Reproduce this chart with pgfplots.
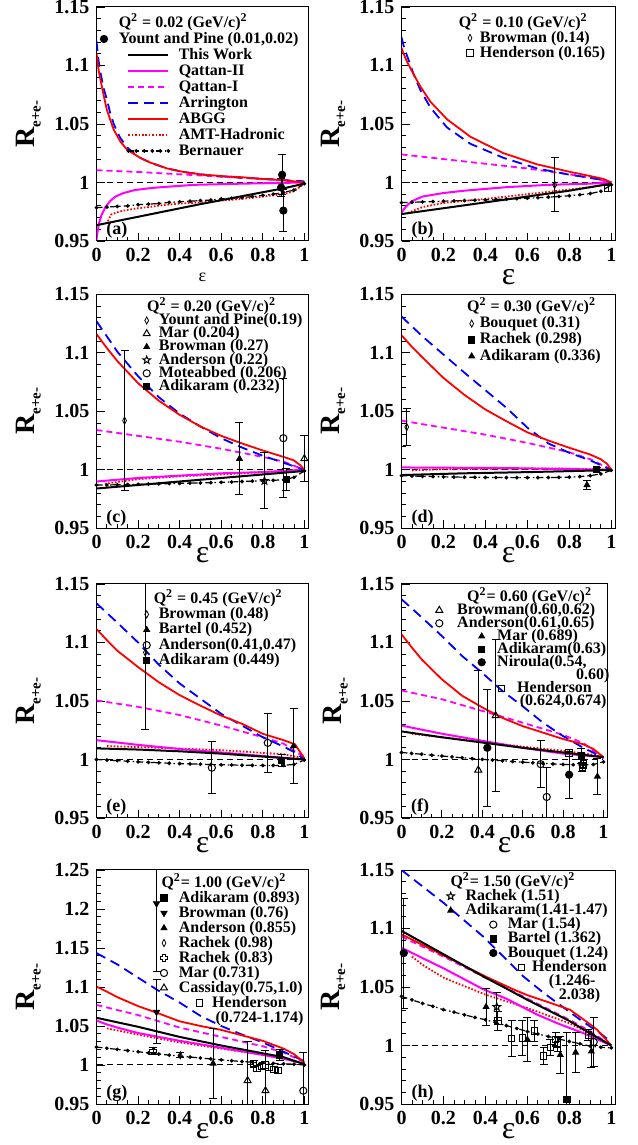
\documentclass[border=0pt]{standalone}
\usepackage{fontspec}
\setmainfont{Liberation Serif}
\usepackage{pgfplots}
\pgfplotsset{compat=1.18}
\usetikzlibrary{plotmarks}
\definecolor{rmag}{RGB}{255,0,255}
\definecolor{rred}{RGB}{255,0,0}
\definecolor{rblue}{RGB}{0,0,255}

\pgfdeclareplotmark{ostar}{%
  \pgfpathmoveto{\pgfpointpolar{90}{\pgfplotmarksize}}%
  \pgfpathlineto{\pgfpointpolar{126}{0.42\pgfplotmarksize}}%
  \pgfpathlineto{\pgfpointpolar{162}{\pgfplotmarksize}}%
  \pgfpathlineto{\pgfpointpolar{198}{0.42\pgfplotmarksize}}%
  \pgfpathlineto{\pgfpointpolar{234}{\pgfplotmarksize}}%
  \pgfpathlineto{\pgfpointpolar{270}{0.42\pgfplotmarksize}}%
  \pgfpathlineto{\pgfpointpolar{306}{\pgfplotmarksize}}%
  \pgfpathlineto{\pgfpointpolar{342}{0.42\pgfplotmarksize}}%
  \pgfpathlineto{\pgfpointpolar{18}{\pgfplotmarksize}}%
  \pgfpathlineto{\pgfpointpolar{54}{0.42\pgfplotmarksize}}%
  \pgfpathclose\pgfusepathqstroke}
\pgfdeclareplotmark{ocross}{%
  \pgfpathmoveto{\pgfqpoint{-0.33\pgfplotmarksize}{\pgfplotmarksize}}%
  \pgfpathlineto{\pgfqpoint{0.33\pgfplotmarksize}{\pgfplotmarksize}}%
  \pgfpathlineto{\pgfqpoint{0.33\pgfplotmarksize}{0.33\pgfplotmarksize}}%
  \pgfpathlineto{\pgfqpoint{\pgfplotmarksize}{0.33\pgfplotmarksize}}%
  \pgfpathlineto{\pgfqpoint{\pgfplotmarksize}{-0.33\pgfplotmarksize}}%
  \pgfpathlineto{\pgfqpoint{0.33\pgfplotmarksize}{-0.33\pgfplotmarksize}}%
  \pgfpathlineto{\pgfqpoint{0.33\pgfplotmarksize}{-\pgfplotmarksize}}%
  \pgfpathlineto{\pgfqpoint{-0.33\pgfplotmarksize}{-\pgfplotmarksize}}%
  \pgfpathlineto{\pgfqpoint{-0.33\pgfplotmarksize}{-0.33\pgfplotmarksize}}%
  \pgfpathlineto{\pgfqpoint{-\pgfplotmarksize}{-0.33\pgfplotmarksize}}%
  \pgfpathlineto{\pgfqpoint{-\pgfplotmarksize}{0.33\pgfplotmarksize}}%
  \pgfpathlineto{\pgfqpoint{-0.33\pgfplotmarksize}{0.33\pgfplotmarksize}}%
  \pgfpathclose\pgfusepathqstroke}

\tikzset{plab/.style={font=\bfseries\fontsize{9}{9}\selectfont, anchor=south west, inner sep=0pt}}

\pgfplotsset{
  panel/.style={
    scale only axis, width=106pt, height=117pt, anchor=south west,
    xmin=0, xmax=1.02, ymin=0.95, ymax=1.15,
    xtick={0,0.2,0.4,0.6,0.8,1}, xticklabels={0,0.2,0.4,0.6,0.8,1},
    ytick={0.95,1,1.05,1.1,1.15}, yticklabels={0.95,1,1.05,1.1,1.15},
    minor x tick num=3, minor y tick num=4,
    tick align=inside, tick pos=left,
    major tick length=4pt, minor tick length=2pt,
    tick style={black, line width=0.4pt},
    axis line style={line width=0.5pt},
    ticklabel style={font=\bfseries\fontsize{10}{10}\selectfont},
    ylabel={\bfseries\fontsize{14}{14}\selectfont R\raisebox{-0.45ex}{\fontsize{7.5}{7.5}\selectfont e+e-}},
    ylabel style={at={(axis description cs:-0.32,0.5)}, anchor=center},
    xlabel={ε},
    xlabel style={at={(axis description cs:0.5,0)}, anchor=center, yshift=-13.5pt, font=\fontsize{16}{16}\selectfont},
    legend cell align=left,
    legend style={draw=none, fill=none, inner sep=0pt, outer sep=0pt,
      at={(axis description cs:0,1)}, anchor=north west,
      font=\bfseries\fontsize{8}{8}\selectfont, column sep=0pt,
      nodes={inner sep=0.25pt, text height=5.8pt, text depth=1.7pt}},
  },
  lgm/.style={legend image code/.code={\draw[##1,overlay,xshift=#1] plot coordinates {(0pt,0pt)};}},
  lgl/.style={legend image code/.code={\draw[##1,overlay,xshift=#1] plot coordinates {(0pt,0pt) (4pt,0pt) (8pt,0pt) (12pt,0pt) (16pt,0pt) (20pt,0pt)};}},
  cTW/.style={black, line width=1pt, no marks},
  cQ2/.style={rmag, line width=1pt, no marks},
  cQ1/.style={rmag, line width=0.9pt, dash pattern=on 3pt off 2pt, no marks},
  cAR/.style={rblue, line width=0.9pt, dash pattern=on 5pt off 3pt, no marks},
  cAB/.style={rred, line width=0.9pt, no marks},
  cAM/.style={rred, line width=0.9pt, dash pattern=on 0.8pt off 0.9pt, no marks},
  cBE/.style={black, line width=0.6pt, dash pattern=on 3pt off 1.5pt on 0.8pt off 1.5pt, mark=*, mark size=0.6pt, mark options={solid}},
  cone/.style={black, line width=0.5pt, dash pattern=on 3pt off 2pt, no marks, forget plot},
  dp/.style={only marks, black, forget plot, mark size=1.8pt, mark options={solid, line width=0.5pt},
    error bars/y dir=both, error bars/y explicit,
    error bars/error bar style={line width=0.5pt, black, solid},
    error bars/error mark options={rotate=90, mark size=2pt, line width=0.5pt, black, solid}},
  mk/.style={only marks, black, mark size=1.8pt, mark options={solid, line width=0.5pt}},
}

\newcommand{\QQ}[1]{Q\textsuperscript{2} = #1 (GeV/c)\textsuperscript{2}}
\newcommand{\QQn}[1]{Q\textsuperscript{2}= #1 (GeV/c)\textsuperscript{2}}

\begin{document}
\begin{tikzpicture}
\useasboundingbox (0,0) rectangle (318.5pt,572.5pt);

% ================= (a)
\begin{axis}[panel, at={(48.25pt,452pt)},
  xlabel style={yshift=-4.5pt, font=\fontsize{9}{9}\selectfont},
  legend style={xshift=10.9pt, yshift=-4pt, row sep=0pt}]
\addplot[cone] coordinates {(0,1) (1,1)};
\addplot[cBE, forget plot] coordinates {(0,0.9785) (0.05,0.979) (0.1,0.9795) (0.15,0.980) (0.2,0.981) (0.25,0.9815) (0.3,0.982) (0.35,0.983) (0.4,0.9835) (0.45,0.984) (0.5,0.9845) (0.55,0.985) (0.6,0.986) (0.65,0.9865) (0.7,0.987) (0.75,0.988) (0.8,0.989) (0.85,0.990) (0.9,0.9915) (0.95,0.9935) (1,0.999)};
\addplot[cAM, forget plot] coordinates {(0.055,0.967) (0.07,0.9725) (0.09,0.974) (0.123,0.9757) (0.187,0.9777) (0.25,0.979) (0.315,0.9805) (0.4,0.982) (0.507,0.983) (0.6,0.9845) (0.7,0.986) (0.8,0.988) (0.9,0.990) (0.95,0.9925) (1,0.999)};
\addplot[cQ1, forget plot] coordinates {(0,1.0105) (0.2,1.009) (0.4,1.007) (0.6,1.005) (0.8,1.003) (1,1.0005)};
\addplot[cQ2, forget plot] coordinates {(0,0.951) (0.005,0.958) (0.012,0.965) (0.024,0.972) (0.043,0.979) (0.065,0.984) (0.091,0.988) (0.13,0.991) (0.184,0.9935) (0.25,0.995) (0.312,0.996) (0.47,0.998) (0.7,0.999) (1,1.0)};
\addplot[cAR, forget plot] coordinates {(0,1.121) (0.005,1.112) (0.01,1.104) (0.02,1.093) (0.035,1.080) (0.05,1.071) (0.065,1.060) (0.083,1.050) (0.1,1.043) (0.115,1.038) (0.147,1.030) (0.18,1.025) (0.211,1.021) (0.259,1.017) (0.339,1.012) (0.419,1.009) (0.5,1.007) (0.579,1.0055) (0.7,1.004) (0.819,1.003) (0.9,1.002) (1,1.001)};
\addplot[cAB, forget plot] coordinates {(0,1.111) (0.005,1.103) (0.01,1.096) (0.02,1.087) (0.035,1.074) (0.05,1.062) (0.083,1.045) (0.115,1.035) (0.147,1.028) (0.211,1.021) (0.259,1.017) (0.339,1.012) (0.419,1.009) (0.5,1.007) (0.6,1.0055) (0.7,1.0045) (0.8,1.003) (0.9,1.002) (1,1.0)};
\addplot[cTW, forget plot] coordinates {(0,0.9635) (0.25,0.9725) (0.5,0.9815) (0.75,0.990) (0.9,0.995) (1,0.999)};
\addplot[dp, mark=*] coordinates {(0.893,1.0066) +- (0,0.017) (0.888,0.9957) +- (0,0.008) (0.899,0.976) +- (0,0.018)};
\addlegendimage{empty legend}\addlegendentry{\QQ{0.02}}
\addlegendimage{mk, mark=*, lgm=-7.15pt}\addlegendentry{Yount and Pine (0.01,0.02)}
\addlegendimage{cTW, lgl=5pt}\addlegendentry{\hspace{30pt}This Work}
\addlegendimage{cQ2, lgl=5pt}\addlegendentry{\hspace{30pt}Qattan-II}
\addlegendimage{cQ1, lgl=5pt}\addlegendentry{\hspace{30pt}Qattan-I}
\addlegendimage{cAR, lgl=5pt}\addlegendentry{\hspace{30pt}Arrington}
\addlegendimage{cAB, lgl=5pt}\addlegendentry{\hspace{30pt}ABGG}
\addlegendimage{cAM, lgl=5pt}\addlegendentry{\hspace{30pt}AMT-Hadronic}
\addlegendimage{cBE, lgl=5pt}\addlegendentry{\hspace{30pt}Bernauer}
\node[plab] at (axis description cs:0.045,0.008) {(a)};
\end{axis}

% ================= (b)
\begin{axis}[panel, at={(200.75pt,452pt)}, width=107pt,
  xlabel style={yshift=-4.5pt},
  legend style={xshift=28.4pt, yshift=-4pt, row sep=-0.5pt}]
\addplot[cone] coordinates {(0,1) (1,1)};
\addplot[cBE, forget plot] coordinates {(0,0.9828) (0.05,0.9831) (0.1,0.9834) (0.15,0.9837) (0.2,0.984) (0.25,0.9843) (0.3,0.9846) (0.35,0.9849) (0.4,0.9852) (0.45,0.9855) (0.5,0.9858) (0.55,0.9862) (0.6,0.9866) (0.65,0.987) (0.7,0.9875) (0.75,0.988) (0.8,0.9887) (0.85,0.9895) (0.9,0.9905) (0.95,0.9925) (1,0.998)};
\addplot[cAM, forget plot] coordinates {(0.03,0.974) (0.1,0.979) (0.2,0.9825) (0.4,0.986) (0.6,0.990) (0.8,0.994) (0.9,0.996) (1,0.999)};
\addplot[cQ1, forget plot] coordinates {(0,1.024) (0.2,1.020) (0.4,1.016) (0.6,1.012) (0.8,1.007) (0.9,1.004) (1,1.0)};
\addplot[cQ2, forget plot] coordinates {(0,0.974) (0.01,0.977) (0.03,0.981) (0.05,0.984) (0.1,0.988) (0.2,0.991) (0.3,0.993) (0.5,0.996) (0.7,0.998) (0.9,0.999) (1,1.0)};
\addplot[cAR, forget plot] coordinates {(0,1.124) (0.01,1.117) (0.027,1.108) (0.059,1.092) (0.09,1.079) (0.138,1.064) (0.217,1.047) (0.329,1.033) (0.487,1.021) (0.646,1.012) (0.805,1.0065) (0.9,1.004) (0.963,1.002) (1,1.0)};
\addplot[cAB, forget plot] coordinates {(0,1.115) (0.01,1.110) (0.027,1.103) (0.059,1.092) (0.09,1.082) (0.138,1.069) (0.217,1.054) (0.329,1.039) (0.487,1.025) (0.646,1.0155) (0.805,1.009) (0.9,1.0055) (0.963,1.003) (1,1.0)};
\addplot[cTW, forget plot] coordinates {(0,0.973) (0.2,0.978) (0.4,0.983) (0.6,0.988) (0.8,0.993) (0.9,0.996) (1,0.999)};
\addplot[dp, mark=diamond, mark options={xscale=0.7}] coordinates {(0.73,0.998) +- (0,0.023)};
\addplot[dp, mark=square, mark size=1.6pt] coordinates {(0.985,0.995) +- (0,0.003)};
\addlegendimage{empty legend}\addlegendentry{\QQ{0.10}}
\addlegendimage{mk, mark=diamond, mark options={xscale=0.7}, lgm=5.85pt}\addlegendentry{\hspace{10.5pt}Browman (0.14)}
\addlegendimage{mk, mark=square, mark size=1.6pt, lgm=5.85pt}\addlegendentry{\hspace{10.5pt}Henderson (0.165)}
\node[plab] at (axis description cs:0.045,0.008) {(b)};
\end{axis}

% ================= (c)
\begin{axis}[panel, at={(48.25pt,308.35pt)},
  legend style={xshift=25.1pt, yshift=-2.5pt, row sep=-1.4pt}]
\addplot[cone] coordinates {(0,1) (1,1)};
\addplot[cBE, forget plot] coordinates {(0,0.987) (0.05,0.987) (0.1,0.9872) (0.15,0.9874) (0.2,0.9876) (0.25,0.9878) (0.3,0.988) (0.35,0.9882) (0.4,0.9884) (0.45,0.9886) (0.5,0.9888) (0.55,0.989) (0.6,0.9893) (0.65,0.9896) (0.7,0.99) (0.75,0.9903) (0.8,0.9906) (0.85,0.991) (0.9,0.9915) (0.95,0.9935) (1,0.999)};
\addplot[cAM, forget plot] coordinates {(0.04,0.988) (0.2,0.992) (0.4,0.9945) (0.6,0.996) (0.8,0.998) (1,1.0)};
\addplot[cQ1, forget plot] coordinates {(0,1.034) (0.2,1.029) (0.4,1.024) (0.6,1.018) (0.8,1.011) (0.9,1.007) (1,1.0)};
\addplot[cQ2, forget plot] coordinates {(0,0.990) (0.2,0.993) (0.4,0.995) (0.6,0.997) (0.8,0.998) (1,1.0)};
\addplot[cAR, forget plot] coordinates {(0,1.127) (0.05,1.114) (0.1,1.101) (0.2,1.080) (0.3,1.062) (0.4,1.048) (0.5,1.037) (0.6,1.027) (0.7,1.019) (0.8,1.012) (0.9,1.006) (0.95,1.003) (1,1.0)};
\addplot[cAB, forget plot] coordinates {(0,1.116) (0.05,1.104) (0.1,1.093) (0.2,1.074) (0.3,1.059) (0.4,1.047) (0.5,1.037) (0.6,1.029) (0.7,1.0225) (0.8,1.0165) (0.9,1.011) (0.95,1.008) (0.98,1.004) (1,1.0)};
\addplot[cTW, forget plot] coordinates {(0,0.984) (0.2,0.987) (0.4,0.990) (0.6,0.993) (0.8,0.996) (1,0.999)};
\addplot[dp, mark=diamond, mark options={xscale=0.7}] coordinates {(0.135,1.042) +- (0,0.06)};
\addplot[dp, mark=triangle, mark size=2pt] coordinates {(1.0,1.0095) +- (0,0.0195)};
\addplot[dp, mark=triangle*, mark size=1.6pt] coordinates {(0.688,1.0095) +- (0,0.031)};
\addplot[dp, mark=ostar, mark size=2pt] coordinates {(0.808,0.9905) +- (0,0.024)};
\addplot[dp, mark=o] coordinates {(0.899,1.027) +- (0,0.051)};
\addplot[dp, mark=square*, mark size=1.6pt] coordinates {(0.914,0.9915) +- (0,0.0095)};
\addlegendimage{empty legend}\addlegendentry{\QQ{0.20}}
\addlegendimage{mk, mark=diamond, mark options={xscale=0.7}, lgm=0pt}\addlegendentry{\hspace{5.8pt}Yount and Pine(0.19)}
\addlegendimage{mk, mark=triangle, mark size=2pt, lgm=0pt}\addlegendentry{\hspace{5.8pt}Mar (0.204)}
\addlegendimage{mk, mark=triangle*, mark size=1.6pt, lgm=0pt}\addlegendentry{\hspace{5.8pt}Browman (0.27)}
\addlegendimage{mk, mark=ostar, mark size=2pt, lgm=0pt}\addlegendentry{\hspace{5.8pt}Anderson (0.22)}
\addlegendimage{mk, mark=o, lgm=0pt}\addlegendentry{\hspace{5.8pt}Moteabbed (0.206)}
\addlegendimage{mk, mark=square*, mark size=1.6pt, lgm=0pt}\addlegendentry{\hspace{5.8pt}Adikaram (0.232)}
\node[plab] at (axis description cs:0.045,0.008) {(c)};
\end{axis}

% ================= (d)
\begin{axis}[panel, at={(200.75pt,308.35pt)}, width=107pt,
  legend style={xshift=32.6pt, yshift=-2.5pt, row sep=0.15pt}]
\addplot[cone] coordinates {(0,1) (1,1)};
\addplot[cBE, forget plot] coordinates {(0,0.995) (0.05,0.9947) (0.1,0.9944) (0.15,0.9942) (0.2,0.994) (0.25,0.9938) (0.3,0.9937) (0.35,0.9936) (0.4,0.9935) (0.45,0.9934) (0.5,0.9933) (0.55,0.9933) (0.6,0.9933) (0.65,0.9933) (0.7,0.9934) (0.75,0.9935) (0.8,0.9937) (0.85,0.9942) (0.9,0.995) (0.95,0.9965) (1,0.9995)};
\addplot[cAM, forget plot] coordinates {(0.05,0.9995) (0.2,1.0005) (0.5,1.001) (0.8,1.001) (1,1.0)};
\addplot[cQ1, forget plot] coordinates {(0,1.042) (0.2,1.036) (0.4,1.030) (0.6,1.023) (0.8,1.015) (0.9,1.009) (1,1.0)};
\addplot[cQ2, forget plot] coordinates {(0,1.002) (0.5,1.0015) (1,1.0)};
\addplot[cAR, forget plot] coordinates {(0,1.131) (0.1,1.114) (0.2,1.0985) (0.3,1.083) (0.4,1.068) (0.5,1.053) (0.6,1.036) (0.7,1.0225) (0.8,1.0145) (0.9,1.008) (0.95,1.004) (1,1.0)};
\addplot[cAB, forget plot] coordinates {(0,1.115) (0.05,1.105) (0.1,1.096) (0.2,1.0785) (0.3,1.064) (0.4,1.0515) (0.5,1.0415) (0.6,1.032) (0.7,1.025) (0.8,1.0188) (0.9,1.013) (0.95,1.009) (0.98,1.005) (1,1.0)};
\addplot[cTW, forget plot] coordinates {(0,0.9955) (0.3,0.997) (0.6,0.998) (0.9,0.9993) (1,1.0)};
\addplot[dp, mark=diamond, mark options={xscale=0.7}] coordinates {(0.025,1.0365) +- (0,0.016)};
\addplot[dp, mark=square*, mark size=1.6pt] coordinates {(0.93,1.0) +- (0,0.002)};
\addplot[dp, mark=triangle*, mark size=1.6pt] coordinates {(0.884,0.987) +- (0,0.004)};
\addlegendimage{empty legend}\addlegendentry{\QQ{0.30}}
\addlegendimage{mk, mark=diamond, mark options={xscale=0.7}, lgm=2.5pt}\addlegendentry{\hspace{6.3pt}Bouquet (0.31)}
\addlegendimage{mk, mark=square*, mark size=1.6pt, lgm=2.5pt}\addlegendentry{\hspace{6.3pt}Rachek (0.298)}
\addlegendimage{mk, mark=triangle*, mark size=1.6pt, lgm=2.5pt}\addlegendentry{\hspace{6.3pt}Adikaram (0.336)}
\node[plab] at (axis description cs:0.045,0.008) {(d)};
\end{axis}

% ================= (e)
\begin{axis}[panel, at={(48.25pt,163.5pt)},
  legend style={xshift=28.4pt, yshift=-3.5pt, row sep=-0.3pt}]
\addplot[cone] coordinates {(0,1) (1,1)};
\addplot[cBE, forget plot] coordinates {(0,1.0) (0.05,0.9995) (0.1,0.999) (0.15,0.9985) (0.2,0.998) (0.25,0.9976) (0.3,0.9972) (0.35,0.9968) (0.4,0.9965) (0.45,0.9962) (0.5,0.996) (0.55,0.9957) (0.6,0.9955) (0.65,0.9953) (0.7,0.9951) (0.75,0.995) (0.8,0.9949) (0.85,0.9949) (0.9,0.995) (0.95,0.9958) (1,0.9995)};
\addplot[cAM, forget plot] coordinates {(0.05,1.0115) (0.3,1.010) (0.6,1.008) (0.9,1.0045) (1,1.001)};
\addplot[cQ1, forget plot] coordinates {(0,1.0505) (0.2,1.045) (0.4,1.038) (0.6,1.029) (0.8,1.019) (0.9,1.0135) (1,1.002)};
\addplot[cQ2, forget plot] coordinates {(0,1.0165) (0.2,1.0125) (0.4,1.009) (0.6,1.006) (0.8,1.003) (1,1.0)};
\addplot[cAR, forget plot] coordinates {(0,1.1335) (0.1,1.117) (0.2,1.100) (0.3,1.081) (0.4,1.065) (0.5,1.052) (0.6,1.039) (0.7,1.029) (0.8,1.019) (0.9,1.011) (0.95,1.0065) (1,1.0)};
\addplot[cAB, forget plot] coordinates {(0,1.1115) (0.05,1.102) (0.1,1.093) (0.2,1.079) (0.3,1.066) (0.4,1.055) (0.5,1.046) (0.6,1.0375) (0.7,1.0305) (0.8,1.022) (0.9,1.0165) (0.955,1.013) (1,1.001)};
\addplot[cTW, forget plot] coordinates {(0,1.0095) (0.2,1.0085) (0.4,1.007) (0.6,1.005) (0.8,1.0025) (1,1.0)};
\addplot[dp, mark=diamond, mark options={xscale=0.7}] coordinates {(0.235,1.0915) +- (0,0.066)};
\addplot[dp, mark=triangle*, mark size=1.6pt] coordinates {(0.948,1.0115) +- (0,0.032)};
\addplot[dp, mark=o] coordinates {(0.555,0.993) +- (0,0.022) (0.824,1.0142) +- (0,0.025)};
\addplot[dp, mark=square*, mark size=1.6pt] coordinates {(0.891,0.999) +- (0,0.005)};
\addlegendimage{empty legend}\addlegendentry{\QQ{0.45}}
\addlegendimage{mk, mark=diamond, mark options={xscale=0.7}, lgm=-3.3pt}\addlegendentry{\hspace{2.5pt}Browman (0.48)}
\addlegendimage{mk, mark=triangle*, mark size=1.6pt, lgm=-3.3pt}\addlegendentry{\hspace{2.5pt}Bartel (0.452)}
\addlegendimage{mk, mark=o, lgm=-3.3pt}\addlegendentry{\hspace{2.5pt}Anderson(0.41,0.47)}
\addlegendimage{mk, mark=square*, mark size=1.6pt, lgm=-3.3pt}\addlegendentry{\hspace{2.5pt}Adikaram (0.449)}
\node[plab] at (axis description cs:0.045,0.008) {(e)};
\end{axis}

% ================= (f)
\begin{axis}[panel, at={(200.75pt,163.5pt)}, width=103pt,
  legend style={xshift=27.6pt, yshift=-2.65pt, row sep=-1.5pt}]
\addplot[cone] coordinates {(0,1) (1,1)};
\addplot[cBE, forget plot] coordinates {(0,1.006) (0.05,1.0052) (0.1,1.0045) (0.15,1.0037) (0.2,1.003) (0.25,1.0022) (0.3,1.0015) (0.35,1.0008) (0.4,1.0001) (0.45,0.9995) (0.5,0.9989) (0.55,0.9983) (0.6,0.9977) (0.65,0.9972) (0.7,0.9967) (0.75,0.9962) (0.8,0.9958) (0.85,0.9955) (0.9,0.9953) (0.95,0.9957) (1,0.998)};
\addplot[cAM, forget plot] coordinates {(0.05,1.022) (0.2,1.019) (0.4,1.015) (0.6,1.011) (0.8,1.0075) (0.95,1.004) (1,1.002)};
\addplot[cQ1, forget plot] coordinates {(0,1.059) (0.2,1.0515) (0.4,1.0415) (0.6,1.0315) (0.8,1.021) (0.9,1.014) (1,1.001)};
\addplot[cQ2, forget plot] coordinates {(0,1.029) (0.2,1.022) (0.4,1.016) (0.6,1.010) (0.8,1.005) (1,1.002)};
\addplot[cAR, forget plot] coordinates {(0,1.137) (0.1,1.1215) (0.2,1.1055) (0.3,1.0885) (0.4,1.074) (0.5,1.0585) (0.6,1.0455) (0.7,1.0315) (0.8,1.020) (0.9,1.010) (1,1.0015)};
\addplot[cAB, forget plot] coordinates {(0,1.107) (0.05,1.096) (0.1,1.0855) (0.2,1.0685) (0.3,1.0545) (0.4,1.0445) (0.5,1.0355) (0.6,1.0285) (0.7,1.023) (0.8,1.0175) (0.9,1.013) (0.95,1.009) (1,1.002)};
\addplot[cTW, forget plot] coordinates {(0,1.024) (0.2,1.019) (0.4,1.0145) (0.6,1.010) (0.8,1.006) (1,1.002)};
\addplot[dp, mark=triangle, mark size=2pt] coordinates {(0.38,0.991) +- (0,0.085) (0.466,1.0375) +- (0,0.065)};
\addplot[dp, mark=o] coordinates {(0.689,0.996) +- (0,0.020) (0.719,0.968) +- (0,0.025)};
\addplot[dp, mark=triangle*, mark size=1.6pt] coordinates {(0.97,0.9855) +- (0,0.015)};
\addplot[dp, mark=square*, mark size=1.6pt] coordinates {(0.89,1.003) +- (0,0.006)};
\addplot[dp, mark=*] coordinates {(0.425,1.010) +- (0,0.050) (0.830,0.987) +- (0,0.020)};
\addplot[dp, mark=square, mark size=1.6pt] coordinates {(0.83,1.0057) +- (0,0.003) (0.895,0.9935) +- (0,0.004) (0.9,0.996) +- (0,0.004)};
\addlegendimage{empty legend}\addlegendentry{\hspace{5pt}\QQn{0.60}}
\addlegendimage{mk, mark=triangle, mark size=2pt, lgm=-8.7pt}\addlegendentry{Browman(0.60,0.62)}
\addlegendimage{mk, mark=o, lgm=-8.7pt}\addlegendentry{Anderson(0.61,0.65)}
\addlegendimage{mk, mark=triangle*, mark size=1.6pt, lgm=12.5pt}\addlegendentry{\hspace{20pt}Mar (0.689)}
\addlegendimage{mk, mark=square*, mark size=1.6pt, lgm=12.5pt}\addlegendentry{\hspace{20pt}Adikaram(0.63)}
\addlegendimage{mk, mark=*, lgm=12.5pt}\addlegendentry{\hspace{20pt}Niroula(0.54,}
\addlegendimage{empty legend}\addlegendentry{\hspace{59.5pt}0.60)}
\addlegendimage{mk, mark=square, mark size=1.6pt, lgm=22.5pt}\addlegendentry{\hspace{30pt}Henderson}
\addlegendimage{empty legend}\addlegendentry{\hspace{31.3pt}(0.624,0.674)}
\node[plab] at (axis description cs:0.045,0.008) {(f)};
\end{axis}

% ================= (g)
\begin{axis}[panel, at={(48.25pt,20.5pt)}, ymax=1.25,
  ytick={0.95,1,1.05,1.1,1.15,1.2,1.25}, yticklabels={0.95,1,1.05,1.1,1.15,1.2,1.25},
  legend style={xshift=32.25pt, yshift=-2.5pt, row sep=-0.5pt}]
\addplot[cone] coordinates {(0,1) (1,1)};
\addplot[cBE, forget plot] coordinates {(0,1.023) (0.05,1.0215) (0.1,1.020) (0.15,1.0185) (0.2,1.017) (0.25,1.0155) (0.3,1.014) (0.35,1.0127) (0.4,1.0115) (0.45,1.0102) (0.5,1.009) (0.55,1.0078) (0.6,1.0066) (0.65,1.0055) (0.7,1.0045) (0.75,1.0035) (0.8,1.0027) (0.85,1.002) (0.9,1.0015) (0.95,1.001) (1,1.0)};
\addplot[cAM, forget plot] coordinates {(0.05,1.047) (0.2,1.039) (0.4,1.029) (0.6,1.021) (0.8,1.013) (0.9,1.008) (1,1.002)};
\addplot[cQ1, forget plot] coordinates {(0,1.077) (0.2,1.064) (0.4,1.048) (0.6,1.036) (0.8,1.024) (0.9,1.016) (1,1.004)};
\addplot[cQ2, forget plot] coordinates {(0,1.057) (0.05,1.052) (0.1,1.048) (0.2,1.041) (0.4,1.031) (0.6,1.022) (0.8,1.013) (0.9,1.008) (1,1.002)};
\addplot[cAR, forget plot] coordinates {(0,1.1435) (0.1,1.129) (0.2,1.112) (0.3,1.095) (0.4,1.080) (0.5,1.063) (0.6,1.050) (0.7,1.039) (0.8,1.029) (0.9,1.017) (1,1.005)};
\addplot[cAB, forget plot] coordinates {(0,1.1005) (0.05,1.094) (0.1,1.087) (0.2,1.0755) (0.3,1.066) (0.4,1.056) (0.5,1.050) (0.6,1.045) (0.7,1.038) (0.8,1.031) (0.9,1.021) (0.95,1.014) (1,1.003)};
\addplot[cTW, forget plot] coordinates {(0,1.0605) (0.2,1.049) (0.4,1.036) (0.6,1.025) (0.8,1.015) (0.9,1.010) (1,1.001)};
\addplot[dp, mark=square*, mark size=1.6pt] coordinates {(0.881,1.013) +- (0,0.007)};
\addplot[dp, mark=triangle*, mark size=1.8pt, mark options={rotate=180}] coordinates {(0.289,1.207) +- (0,0.087) (0.289,1.068) +- (0,0.041)};
\addplot[dp, mark=triangle*, mark size=1.6pt] coordinates {(0.561,1.002) +- (0,0.045)};
\addplot[dp, mark=diamond, mark options={xscale=0.7}] coordinates {(0.403,1.0125) +- (0,0.003)};
\addplot[dp, mark=ocross, mark size=1.8pt] coordinates {(0.273,1.018) +- (0,0.005)};
\addplot[dp, mark=o] coordinates {(0.995,0.967) +- (0,0.049)};
\addplot[dp, mark=triangle, mark size=2pt] coordinates {(0.727,0.980) +- (0,0.050) (0.813,0.967) +- (0,0.052)};
\addplot[dp, mark=square, mark size=1.6pt] coordinates {(0.756,1.0015) +- (0,0.004) (0.772,0.9957) +- (0,0.004) (0.797,0.9983) +- (0,0.004) (0.813,1.0) +- (0,0.004) (0.829,0.9966) +- (0,0.004) (0.854,0.9944) +- (0,0.004) (0.875,0.9932) +- (0,0.004)};
\addlegendimage{empty legend}\addlegendentry{\QQn{1.00}}
\addlegendimage{mk, mark=square*, mark size=1.6pt, lgm=1.5pt}\addlegendentry{\hspace{8.65pt}Adikaram (0.893)}
\addlegendimage{mk, mark=triangle*, mark size=1.8pt, mark options={rotate=180}, lgm=1.5pt}\addlegendentry{\hspace{8.65pt}Browman (0.76)}
\addlegendimage{mk, mark=triangle*, mark size=1.6pt, lgm=1.5pt}\addlegendentry{\hspace{8.65pt}Anderson (0.855)}
\addlegendimage{mk, mark=diamond, mark options={xscale=0.7}, lgm=1.5pt}\addlegendentry{\hspace{8.65pt}Rachek (0.98)}
\addlegendimage{mk, mark=ocross, mark size=1.8pt, lgm=1.5pt}\addlegendentry{\hspace{8.65pt}Rachek (0.83)}
\addlegendimage{mk, mark=o, lgm=1.5pt}\addlegendentry{\hspace{8.65pt}Mar (0.731)}
\addlegendimage{mk, mark=triangle, mark size=2pt, lgm=1.5pt}\addlegendentry{\hspace{8.65pt}Cassiday(0.75,1.0)}
\addlegendimage{mk, mark=square, mark size=1.6pt, lgm=19.15pt}\addlegendentry{\hspace{25.35pt}Henderson}
\addlegendimage{empty legend}\addlegendentry{\hspace{27pt}(0.724-1.174)}
\node[plab] at (axis description cs:0.045,0.008) {(g)};
\end{axis}

% ================= (h)
\begin{axis}[panel, at={(200.75pt,20.5pt)}, width=107pt,
  legend style={xshift=24.25pt, yshift=-2pt, row sep=-0.9pt}]
\addplot[cone] coordinates {(0,1) (1,1)};
\addplot[cBE, forget plot] coordinates {(0,1.042) (0.05,1.039) (0.1,1.036) (0.15,1.0335) (0.2,1.0306) (0.25,1.0285) (0.3,1.0262) (0.35,1.024) (0.4,1.022) (0.45,1.0195) (0.5,1.017) (0.55,1.0145) (0.6,1.012) (0.65,1.0098) (0.7,1.0077) (0.75,1.0055) (0.8,1.0035) (0.85,1.0015) (0.9,0.9995) (0.95,0.9985) (1,0.998)};
\addplot[cAM, forget plot] coordinates {(0.05,1.076) (0.1,1.069) (0.2,1.058) (0.4,1.0435) (0.6,1.032) (0.8,1.019) (0.9,1.010) (1,1.0)};
\addplot[cQ1, forget plot] coordinates {(0,1.093) (0.2,1.076) (0.4,1.058) (0.6,1.040) (0.8,1.022) (0.9,1.012) (1,1.0)};
\addplot[cQ2, forget plot] coordinates {(0,1.0835) (0.2,1.066) (0.39,1.048) (0.5,1.040) (0.645,1.0265) (0.75,1.0185) (0.868,1.0105) (1,1.0)};
\addplot[cAR, forget plot] coordinates {(0,1.150) (0.2,1.122) (0.39,1.093) (0.581,1.059) (0.677,1.045) (0.852,1.022) (0.95,1.010) (1,1.003)};
\addplot[cAB, forget plot] coordinates {(0,1.095) (0.2,1.077) (0.4,1.059) (0.533,1.048) (0.6,1.043) (0.7,1.037) (0.804,1.0305) (0.9,1.018) (0.932,1.0135) (0.96,1.008) (1,1.0)};
\addplot[cTW, forget plot] coordinates {(0,1.098) (0.2,1.078) (0.4,1.058) (0.486,1.050) (0.6,1.039) (0.8,1.021) (0.884,1.012) (1,1.0)};
\addplot[dp, mark=ostar, mark size=2pt] coordinates {(0.454,1.033) +- (0,0.012)};
\addplot[dp, mark=triangle*, mark size=1.6pt] coordinates {(0.403,1.033) +- (0,0.016) (0.60,1.005) +- (0,0.019) (0.757,0.992) +- (0,0.016) (0.830,0.994) +- (0,0.017) (0.905,0.995) +- (0,0.014)};
\addplot[dp, mark=o] coordinates {(0.916,1.003) +- (0,0.021)};
\addplot[dp, mark=square*, mark size=1.6pt] coordinates {(0.788,0.954) +- (0,0.057)};
\addplot[dp, mark=*] coordinates {(0.011,1.079) +- (0,0.047)};
\addplot[dp, mark=square, mark size=1.6pt] coordinates {(0.459,1.021) +- (0,0.008) (0.525,1.006) +- (0,0.015) (0.576,1.0065) +- (0,0.015) (0.633,1.0125) +- (0,0.009) (0.677,0.991) +- (0,0.007) (0.709,0.9985) +- (0,0.007) (0.735,1.005) +- (0,0.006) (0.744,1.001) +- (0,0.006) (0.89,1.009) +- (0,0.005)};
\addlegendimage{empty legend}\addlegendentry{\QQn{1.50}}
\addlegendimage{mk, mark=ostar, mark size=2pt, lgm=0.35pt}\addlegendentry{\hspace{7.5pt}Rachek (1.51)}
\addlegendimage{mk, mark=triangle*, mark size=1.6pt, lgm=0.35pt}\addlegendentry{\hspace{7.5pt}Adikaram(1.41-1.47)}
\addlegendimage{mk, mark=o, lgm=21.65pt}\addlegendentry{\hspace{28.65pt}Mar (1.54)}
\addlegendimage{mk, mark=square*, mark size=1.6pt, lgm=21.65pt}\addlegendentry{\hspace{28.65pt}Bartel (1.362)}
\addlegendimage{mk, mark=*, lgm=21.65pt}\addlegendentry{\hspace{28.65pt}Bouquet (1.24)}
\addlegendimage{mk, mark=square, mark size=1.6pt, lgm=35.85pt}\addlegendentry{\hspace{40.85pt}Henderson}
\addlegendimage{empty legend}\addlegendentry{\hspace{49.15pt}(1.246-}
\addlegendimage{empty legend}\addlegendentry{\hspace{54.15pt}2.038)}
\node[plab] at (axis description cs:0.045,0.008) {(h)};
\end{axis}
\end{tikzpicture}
\end{document}
